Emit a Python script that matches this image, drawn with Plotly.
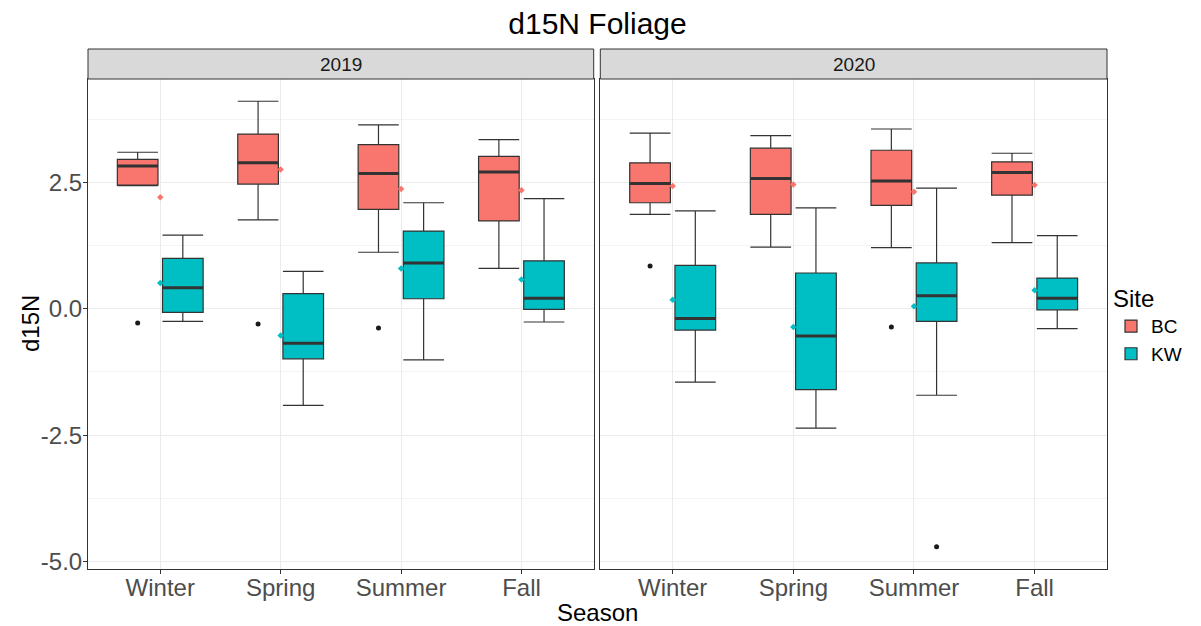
import plotly.graph_objects as go

# ---------------- data ----------------
seasons = ["Winter", "Spring", "Summer", "Fall"]
years = ["2019", "2020"]
sites = ["BC", "KW"]
site_colors = {"BC": "#F8766D", "KW": "#00BFC4"}

# 2019
bc_2019_lower = [2.44, 1.76, 1.12, 0.80]
bc_2019_q1 = [2.45, 2.47, 1.97, 1.74]
bc_2019_median = [2.83, 2.89, 2.68, 2.71]
bc_2019_q3 = [2.96, 3.46, 3.25, 3.02]
bc_2019_upper = [3.10, 4.11, 3.64, 3.35]
bc_2019_mean = [2.21, 2.76, 2.37, 2.35]
bc_2019_out_season = ["Winter", "Spring", "Summer"]
bc_2019_out_value = [-0.28, -0.30, -0.38]

kw_2019_lower = [-0.25, -1.91, -1.01, -0.26]
kw_2019_q1 = [-0.07, -0.99, 0.20, -0.01]
kw_2019_median = [0.42, -0.68, 0.91, 0.21]
kw_2019_q3 = [1.00, 0.30, 1.54, 0.95]
kw_2019_upper = [1.46, 0.74, 2.10, 2.18]
kw_2019_mean = [0.51, -0.53, 0.80, 0.58]
kw_2019_out_season = []
kw_2019_out_value = []

# 2020
bc_2020_lower = [1.87, 1.22, 1.21, 1.31]
bc_2020_q1 = [2.10, 1.87, 2.05, 2.25]
bc_2020_median = [2.48, 2.58, 2.53, 2.70]
bc_2020_q3 = [2.89, 3.18, 3.14, 2.91]
bc_2020_upper = [3.48, 3.43, 3.56, 3.08]
bc_2020_mean = [2.43, 2.46, 2.32, 2.45]
bc_2020_out_season = ["Winter", "Summer"]
bc_2020_out_value = [0.85, -0.36]

kw_2020_lower = [-1.45, -2.36, -1.71, -0.39]
kw_2020_q1 = [-0.42, -1.60, -0.25, -0.02]
kw_2020_median = [-0.19, -0.54, 0.26, 0.21]
kw_2020_q3 = [0.86, 0.71, 0.91, 0.61]
kw_2020_upper = [1.94, 2.00, 2.39, 1.45]
kw_2020_mean = [0.18, -0.36, 0.05, 0.37]
kw_2020_out_season = ["Summer"]
kw_2020_out_value = [-4.71]

y_tick_vals = [-5.0, -2.5, 0.0, 2.5]
y_tick_text = ["-5.0", "-2.5", "0.0", "2.5"]
y_minor_vals = [-3.75, -1.25, 1.25, 3.75]

stats = {
    ("2019", "BC"): (bc_2019_lower, bc_2019_q1, bc_2019_median, bc_2019_q3, bc_2019_upper, bc_2019_mean, bc_2019_out_season, bc_2019_out_value),
    ("2019", "KW"): (kw_2019_lower, kw_2019_q1, kw_2019_median, kw_2019_q3, kw_2019_upper, kw_2019_mean, kw_2019_out_season, kw_2019_out_value),
    ("2020", "BC"): (bc_2020_lower, bc_2020_q1, bc_2020_median, bc_2020_q3, bc_2020_upper, bc_2020_mean, bc_2020_out_season, bc_2020_out_value),
    ("2020", "KW"): (kw_2020_lower, kw_2020_q1, kw_2020_median, kw_2020_q3, kw_2020_upper, kw_2020_mean, kw_2020_out_season, kw_2020_out_value),
}

# ---------------- layout constants ----------------
FONT = "Liberation Sans"
OFF = 8                       # default page body margin
W, H = 1201 - OFF, 626 - OFF
ML, MR, MT, MB = 88 - OFF, 1201 - 1107, 79 - OFF, 626 - 569
plot_w = W - ML - MR
plot_h = H - MT - MB
dodge = 0.75
box_w = dodge / 2 * 0.9
strip_px = 30

def px_to_paper_x(px):
    return (px - OFF - ML) / plot_w

def px_to_paper_y(py):
    return (H - MB - (py - OFF)) / plot_h

fig = go.Figure()

for pi, year in enumerate(years):
    xa = "x" if pi == 0 else "x2"
    ya = "y" if pi == 0 else "y2"
    for si, site in enumerate(sites):
        lo, q1, med, q3, up, mean, out_s, out_v = stats[(year, site)]
        off = dodge / 4 * (2 * si - 1)
        pos = [i + 1 + off for i in range(len(seasons))]
        col = site_colors[site]
        fig.add_trace(go.Box(
            x=pos, q1=q1, median=med, q3=q3, lowerfence=lo, upperfence=up,
            width=box_w, whiskerwidth=1, fillcolor=col,
            line=dict(color="#333333", width=1.2),
            name=site, legendgroup=site, showlegend=(pi == 0),
            boxpoints=False, xaxis=xa, yaxis=ya, hoverinfo="skip",
        ))
        # thicker median lines
        mx, my = [], []
        for p, m in zip(pos, med):
            mx += [p - box_w / 2, p + box_w / 2, None]
            my += [m, m, None]
        fig.add_trace(go.Scatter(x=mx, y=my, mode="lines",
                                 line=dict(color="#333333", width=3),
                                 showlegend=False, xaxis=xa, yaxis=ya, hoverinfo="skip"))
        # outliers
        if out_s:
            ox = [seasons.index(s) + 1 + off for s in out_s]
            fig.add_trace(go.Scatter(x=ox, y=out_v, mode="markers",
                                     marker=dict(color="#1A1A1A", size=5),
                                     showlegend=False, xaxis=xa, yaxis=ya, hoverinfo="skip"))
        # means (not dodged)
        fig.add_trace(go.Scatter(x=[i + 1 for i in range(len(seasons))], y=mean, mode="markers",
                                 marker=dict(color=col, size=5, symbol="diamond"),
                                 showlegend=False, xaxis=xa, yaxis=ya, hoverinfo="skip"))

tick_font = dict(family=FONT, size=24, color="#4D4D4D")
xcommon = dict(range=[0.4, 4.6], tickvals=[1, 2, 3, 4], ticktext=seasons,
               showgrid=True, gridcolor="#EBEBEB", gridwidth=1,
               showline=True, mirror=True, linecolor="#333333", linewidth=1,
               ticks="outside", ticklen=4, tickcolor="#333333",
               tickfont=tick_font, zeroline=False, ticklabelstandoff=-7)
ycommon = dict(range=[-5.15, 4.55], tickvals=y_tick_vals, ticktext=y_tick_text,
               showgrid=True, gridcolor="#EBEBEB", gridwidth=1,
               minor=dict(tickvals=y_minor_vals, showgrid=True, gridcolor="#F3F3F3", gridwidth=1, ticks=""),
               showline=True, mirror=True, linecolor="#333333", linewidth=1,
               ticks="outside", ticklen=4, tickcolor="#333333",
               tickfont=tick_font, zeroline=False)

d1 = px_to_paper_x(593.7)
d2 = px_to_paper_x(600.3)

fig.update_layout(
    width=W, height=H,
    margin=dict(l=ML, r=MR, t=MT, b=MB, autoexpand=False),
    paper_bgcolor="white", plot_bgcolor="white",
    boxmode="overlay",
    xaxis=dict(domain=[0, d1], anchor="y", **xcommon),
    xaxis2=dict(domain=[d2, 1], anchor="y2", **xcommon),
    yaxis=dict(domain=[0, 1], anchor="x", ticklabelstandoff=-4, **ycommon),
    yaxis2=dict(domain=[0, 1], anchor="x2", matches="y", showticklabels=False,
                **{k: v for k, v in ycommon.items() if k not in ("tickfont", "ticks")}, ticks=""),
    font=dict(family=FONT, color="black"),
    title=dict(text="d15N Foliage", x=(ML + plot_w / 2) / W, xanchor="center",
               y=1 - (23 - OFF) / H, yanchor="middle", font=dict(family=FONT, size=30, color="black")),
    legend=dict(x=px_to_paper_x(1111), xanchor="left", y=px_to_paper_y(276), yanchor="top",
                title=dict(text="Site", font=dict(family=FONT, size=24, color="black")),
                font=dict(family=FONT, size=19, color="black"),
                tracegroupgap=0, itemwidth=30, bgcolor="rgba(0,0,0,0)"),
    showlegend=True,
)

# strips
for pi, year in enumerate(years):
    xr = "x domain" if pi == 0 else "x2 domain"
    fig.add_shape(type="rect", xref=xr, yref="paper", x0=0, x1=1, y0=1, y1=1 + strip_px / plot_h,
                  fillcolor="#D9D9D9", line=dict(color="#333333", width=1), layer="above")
    fig.add_annotation(xref=xr, yref="paper", x=0.5, y=1 + strip_px / 2 / plot_h, text=year,
                       showarrow=False, xanchor="center", yanchor="middle",
                       font=dict(family=FONT, size=19, color="#1A1A1A"))

# axis titles
fig.add_annotation(xref="paper", yref="paper", x=0.5, y=px_to_paper_y(612), text="Season",
                   showarrow=False, xanchor="center", yanchor="middle",
                   font=dict(family=FONT, size=24, color="black"))
fig.add_annotation(xref="paper", yref="paper", x=px_to_paper_x(30), y=px_to_paper_y(324),
                   text="d15N", textangle=-90, showarrow=False, xanchor="center", yanchor="middle",
                   font=dict(family=FONT, size=24, color="black"))

fig.write_html("out.html")
